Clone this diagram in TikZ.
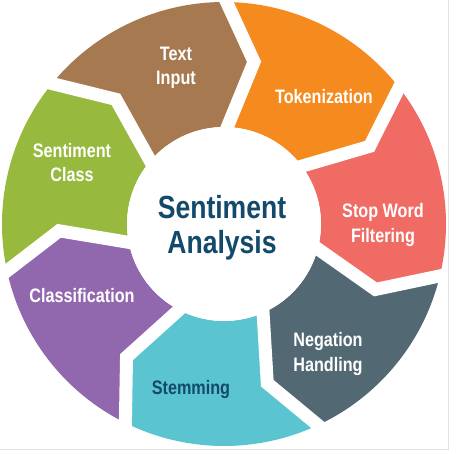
\documentclass[tikz,border=0pt]{standalone}
\usepackage{fontspec}
\setmainfont{Liberation Sans}[FakeStretch=0.83]
\definecolor{cbrown}{HTML}{A67950}
\definecolor{corange}{HTML}{F58A1F}
\definecolor{cred}{HTML}{EF6B63}
\definecolor{cslate}{HTML}{526873}
\definecolor{ccyan}{HTML}{5BC4D1}
\definecolor{cpurple}{HTML}{9168AE}
\definecolor{cgreen}{HTML}{97B93E}
\definecolor{cnavy}{HTML}{134A6B}
\definecolor{cframe}{HTML}{E2E2E2}
\tikzset{
  lbl/.style={text=white, align=center, font=\fontsize{19.5}{24.5}\selectfont\bfseries, inner sep=0pt},
  gapline/.style={draw=white, line width=13pt, line join=miter, miter limit=20},
}
\begin{document}
\begin{tikzpicture}[x=1pt,y=1pt]
\useasboundingbox (-224,-229) rectangle (241,224);
\def\Ro{222}
\def\Ri{97}
\def\Rt{165}
\def\Lead{11}
% segments: start angle (counterclockwise edge) / colour
\foreach \s/\c in {141.93/cbrown, 90.5/corange, 39.07/cred, -12.36/cslate, -63.79/ccyan, -115.21/cpurple, -166.64/cgreen}{
  \pgfmathsetmacro{\e}{\s-51.4286}
  \pgfmathsetmacro{\et}{\e-\Lead}
  \pgfmathsetmacro{\st}{\s-\Lead}
  \fill[\c] (\s:\Ro) arc[start angle=\s, end angle=\e, radius=\Ro]
     -- (\et:\Rt) -- (\e:\Ri) arc[start angle=\e, end angle=\s, radius=\Ri]
     -- (\st:\Rt) -- cycle;
}
% white gaps between segments
\foreach \t in {141.93, 90.5, 39.07, -12.36, -63.79, -115.21, -166.64}{
  \pgfmathsetmacro{\tt}{\t-\Lead}
  \draw[gapline] (\t:\Ro+10) -- (\tt:\Rt) -- (\t:\Ri-10);
}
\fill[white] (0,0) circle[radius=\Ri];
% frame
\draw[cframe, line width=1pt] (224.5,224) -- (224.5,-225.5) -- (-224,-225.5);
% labels
\node[lbl] (t1) at (-48,156) {Text\\Input};
\node[lbl] (t2) at (100,127) {Tokenization};
\node[lbl] (t3) at (159,-1) {Stop Word\\Filtering};
\node[lbl] (t4) at (104,-130) {Negation\\Handling};
\node[lbl, text=cnavy] (t5) at (-33,-165) {Stemming};
\node[lbl] (t6) at (-142,-71.5) {Classification};
\node[lbl] (t7) at (-152,61.5) {Sentiment\\Class};
\node[align=center, text=cnavy, inner sep=0pt, font=\fontsize{32}{35}\selectfont\bfseries] (c) at (-2,-4) {Sentiment\\Analysis};
\end{tikzpicture}
\end{document}
